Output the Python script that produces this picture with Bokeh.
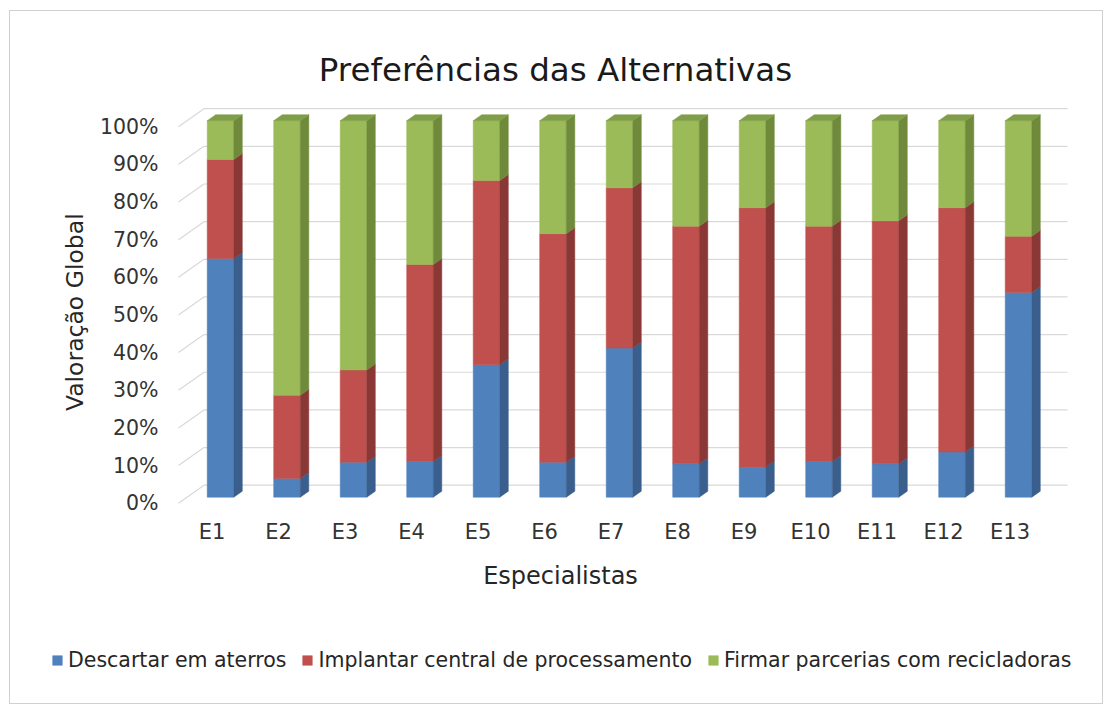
import math
from bokeh.plotting import figure
from bokeh.models import Range1d, FixedTicker, Label, Legend, LegendItem, ColumnDataSource
from bokeh.embed import file_html
from bokeh.resources import INLINE

# ---------------- data ----------------
experts = ["E1", "E2", "E3", "E4", "E5", "E6", "E7", "E8", "E9", "E10", "E11", "E12", "E13"]
descartar = [63.4, 5.0, 9.3, 9.5, 35.2, 9.3, 39.6, 8.9, 8.0, 9.5, 8.9, 12.0, 54.4]
implantar = [26.3, 22.1, 24.5, 52.3, 48.9, 60.7, 42.6, 63.1, 68.9, 62.5, 64.5, 64.9, 14.9]
firmar = [10.3, 72.9, 66.2, 38.2, 15.9, 30.0, 17.8, 28.0, 23.1, 28.0, 26.6, 23.1, 30.7]
series_names = ["Descartar em aterros", "Implantar central de processamento",
                "Firmar parcerias com recicladoras"]
y_ticks = [0, 10, 20, 30, 40, 50, 60, 70, 80, 90, 100]
y_tick_labels = ["0%", "10%", "20%", "30%", "40%", "50%", "60%", "70%", "80%", "90%", "100%"]

title_text = "Preferências das Alternativas"
x_title = "Especialistas"
y_title = "Valoração Global"

# ---------------- style ----------------
FONT = "DejaVu Sans"
front = ["#4F81BD", "#C0504D", "#9BBB59"]
side = ["#3A5F8D", "#8A3836", "#6E8A3A"]
cap_color = "#7F9E47"
grid_color = "#D9D9D9"
DX = 8.5 / 66.5      # 3D depth step, x (data units)
DY = 6.0 / 3.765     # 3D depth step, y (data units)
BW = 0.4             # bar width
GL, GR = 0.496, 13.865
W, H = 1094, 694

p = figure(width=W, height=H, title=None,
           x_range=Range1d(-2.030, 14.421), y_range=Range1d(-53.73, 130.6),
           min_border_left=0, min_border_right=0, min_border_top=0, min_border_bottom=0,
           output_backend="svg", toolbar_location=None)
p.margin = (10, 0, 0, 9)
p.styles = {"border": "1px solid #D0D0D0"}
p.outline_line_color = None
p.xgrid.visible = False
p.ygrid.visible = False
p.background_fill_color = "white"
p.border_fill_color = "white"

# gridlines (side wall + back wall)
gxs = [[GL, GL + 3 * DX, GR] for v in y_ticks]
gys = [[v, v + 3 * DY, v + 3 * DY] for v in y_ticks]
p.multi_line(gxs, gys, line_color=grid_color, line_width=1.2)

xpos = [i + 1 for i in range(len(experts))]
renderers = []
bottoms = [0.0] * len(experts)
for s, vals in enumerate([descartar, implantar, firmar]):
    tops = [b + v for b, v in zip(bottoms, vals)]
    src = ColumnDataSource(dict(x=[x + DX for x in xpos],
                                bottom=[b + DY for b in bottoms],
                                top=[t + DY for t in tops]))
    r = p.vbar(x="x", width=BW, bottom="bottom", top="top", source=src,
               fill_color=front[s], line_color=front[s], line_width=0.5)
    renderers.append(r)
    sxs, sys_ = [], []
    for x, b, t in zip(xpos, bottoms, tops):
        xr = x + DX + BW / 2
        sxs.append([xr, xr, xr + DX, xr + DX])
        sys_.append([b + DY, t + DY, t + 2 * DY, b + 2 * DY])
    p.patches(sxs, sys_, fill_color=side[s], line_color=side[s], line_width=0.5)
    bottoms = tops

cxs, cys = [], []
for x, t in zip(xpos, bottoms):
    xl = x + DX - BW / 2
    xr = x + DX + BW / 2
    cxs.append([xl, xr, xr + DX, xl + DX])
    cys.append([t + DY, t + DY, t + 2 * DY, t + 2 * DY])
p.patches(cxs, cys, fill_color=cap_color, line_color=cap_color, line_width=0.5)

# axes (pinned inside the full-canvas frame)
p.xaxis.ticker = FixedTicker(ticks=xpos)
p.xaxis.major_label_overrides = {x: e for x, e in zip(xpos, experts)}
p.yaxis.ticker = FixedTicker(ticks=y_ticks)
p.yaxis.major_label_overrides = {v: l for v, l in zip(y_ticks, y_tick_labels)}
p.xaxis.fixed_location = -3.267
p.yaxis.fixed_location = 0.376
for ax in (p.xaxis, p.yaxis):
    ax.axis_line_color = None
    ax.major_tick_line_color = None
    ax.minor_tick_line_color = None
    ax.major_tick_out = 0
    ax.major_tick_in = 0
    ax.major_label_text_font = FONT
    ax.major_label_text_color = "#333333"
p.xaxis.major_label_text_font_size = "21px"
p.yaxis.major_label_text_font_size = "20.5px"
p.xaxis.major_label_standoff = 4
p.yaxis.major_label_standoff = 12

# titles (screen units: from frame bottom-left)
p.add_layout(Label(x=545, y=H - 58.3, x_units="screen", y_units="screen", text=title_text,
                   text_font=FONT, text_font_size="32.5px", text_color="#1A1A1A",
                   text_align="center", text_baseline="alphabetic"))
p.add_layout(Label(x=550, y=H - 564.3, x_units="screen", y_units="screen", text=x_title,
                   text_font=FONT, text_font_size="24px", text_color="#262626",
                   text_align="center", text_baseline="alphabetic"))
p.add_layout(Label(x=64, y=H - 300.7, x_units="screen", y_units="screen", text=y_title,
                   angle=math.pi / 2, text_font=FONT, text_font_size="23.5px",
                   text_color="#262626", text_align="center", text_baseline="alphabetic"))

legend = Legend(items=[LegendItem(label=n, renderers=[r]) for n, r in zip(series_names, renderers)],
                orientation="horizontal", location=(41, 33),
                glyph_width=12, glyph_height=12, label_standoff=5, spacing=15,
                padding=0, margin=0, border_line_color=None, background_fill_alpha=0,
                label_text_font=FONT, label_text_font_size="20.5px", label_text_color="#262626")
p.add_layout(legend)

open("out.html", "w").write(file_html(p, INLINE))
